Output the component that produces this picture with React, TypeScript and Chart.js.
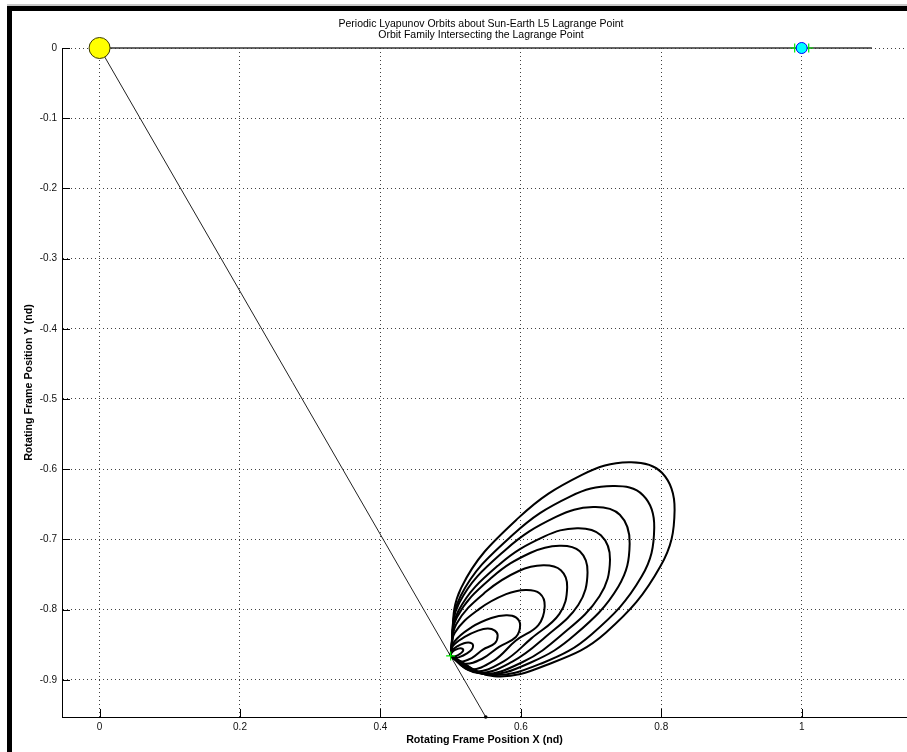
import React, { useEffect, useRef } from 'react';
import { Chart, registerables } from 'chart.js';

Chart.register(...registerables);

// ---- Axes ----
const X_MIN = -0.0535;
const X_MAX = 1.15;
const Y_MIN = -0.953;
const Y_MAX = 0;
const X_TICKS = [0, 0.2, 0.4, 0.6, 0.8, 1];
const X_TICK_LABELS = ['0', '0.2', '0.4', '0.6', '0.8', '1'];
const Y_TICKS = [0, -0.1, -0.2, -0.3, -0.4, -0.5, -0.6, -0.7, -0.8, -0.9];
const Y_TICK_LABELS = ['0', '-0.1', '-0.2', '-0.3', '-0.4', '-0.5', '-0.6', '-0.7', '-0.8', '-0.9'];

const TITLE_LINES = [
  'Periodic Lyapunov Orbits about Sun-Earth L5 Lagrange Point',
  'Orbit Family Intersecting the Lagrange Point',
];
const X_LABEL = 'Rotating Frame Position X (nd)';
const Y_LABEL = 'Rotating Frame Position Y (nd)';

// ---- Bodies and Lagrange points (rotating frame, non-dimensional) ----
const SUN = { x: 0, y: 0 };
const EARTH = { x: 1, y: 0 };
const L1 = { x: 0.99, y: 0 };
const L2 = { x: 1.01, y: 0 };
const L5 = { x: 0.5, y: -0.866 };

// Sun-Earth line and the Sun-L5 ray
const SUN_EARTH_X = [0, 1.1];
const SUN_EARTH_Y = [0, 0];
const L5_RAY_X = [0, 0.55];
const L5_RAY_Y = [0, -0.953];

// ---- Orbit family (largest to smallest), each closed through L5 ----
const ORBIT_1_X = [0.5, 0.515, 0.597, 0.687, 0.754, 0.801, 0.819, 0.799, 0.721, 0.644, 0.562, 0.5];
const ORBIT_1_Y = [-0.866, -0.769, -0.669, -0.608, -0.59, -0.605, -0.658, -0.738, -0.833, -0.876, -0.895, -0.866];
const ORBIT_2_X = [0.5, 0.514, 0.589, 0.67, 0.731, 0.774, 0.79, 0.772, 0.701, 0.631, 0.556, 0.5];
const ORBIT_2_Y = [-0.866, -0.781, -0.693, -0.639, -0.624, -0.637, -0.683, -0.753, -0.835, -0.876, -0.893, -0.866];
const ORBIT_3_X = [0.5, 0.512, 0.578, 0.65, 0.703, 0.741, 0.755, 0.739, 0.677, 0.615, 0.549, 0.5];
const ORBIT_3_Y = [-0.866, -0.791, -0.715, -0.668, -0.654, -0.665, -0.706, -0.767, -0.836, -0.875, -0.892, -0.866];
const ORBIT_4_X = [0.5, 0.511, 0.569, 0.633, 0.68, 0.714, 0.727, 0.712, 0.657, 0.602, 0.544, 0.5];
const ORBIT_4_Y = [-0.866, -0.802, -0.736, -0.696, -0.684, -0.694, -0.729, -0.781, -0.837, -0.875, -0.891, -0.866];
const ORBIT_5_X = [0.5, 0.509, 0.559, 0.614, 0.655, 0.684, 0.695, 0.682, 0.635, 0.588, 0.538, 0.5];
const ORBIT_5_Y = [-0.866, -0.811, -0.754, -0.719, -0.709, -0.717, -0.747, -0.793, -0.839, -0.874, -0.89, -0.866];
const ORBIT_6_X = [0.5, 0.508, 0.551, 0.597, 0.632, 0.657, 0.666, 0.655, 0.615, 0.575, 0.532, 0.5];
const ORBIT_6_Y = [-0.866, -0.821, -0.774, -0.745, -0.737, -0.744, -0.768, -0.806, -0.841, -0.874, -0.888, -0.866];
const ORBIT_7_X = [0.5, 0.506, 0.541, 0.579, 0.607, 0.627, 0.634, 0.625, 0.593, 0.561, 0.526, 0.5];
const ORBIT_7_Y = [-0.866, -0.833, -0.799, -0.778, -0.772, -0.777, -0.795, -0.822, -0.844, -0.873, -0.885, -0.866];
const ORBIT_8_X = [0.5, 0.505, 0.53, 0.558, 0.579, 0.593, 0.599, 0.593, 0.569, 0.545, 0.519, 0.5];
const ORBIT_8_Y = [-0.866, -0.846, -0.825, -0.812, -0.808, -0.811, -0.822, -0.839, -0.853, -0.87, -0.877, -0.866];
const ORBIT_9_X = [0.5, 0.503, 0.52, 0.539, 0.553, 0.563, 0.567, 0.563, 0.546, 0.53, 0.513, 0.5];
const ORBIT_9_Y = [-0.866, -0.852, -0.839, -0.83, -0.827, -0.83, -0.837, -0.848, -0.857, -0.869, -0.874, -0.866];
const ORBIT_10_X = [0.5, 0.501, 0.51, 0.519, 0.525, 0.53, 0.532, 0.53, 0.522, 0.514, 0.506, 0.5];
const ORBIT_10_Y = [-0.866, -0.859, -0.852, -0.848, -0.847, -0.848, -0.851, -0.857, -0.863, -0.867, -0.869, -0.866];
const ORBIT_11_X = [0.5, 0.501, 0.505, 0.51, 0.514, 0.517, 0.518, 0.516, 0.512, 0.508, 0.503, 0.5];
const ORBIT_11_Y = [-0.866, -0.862, -0.858, -0.856, -0.855, -0.856, -0.858, -0.861, -0.864, -0.866, -0.867, -0.866];

const ORBITS: [number[], number[]][] = [
  [ORBIT_1_X, ORBIT_1_Y],
  [ORBIT_2_X, ORBIT_2_Y],
  [ORBIT_3_X, ORBIT_3_Y],
  [ORBIT_4_X, ORBIT_4_Y],
  [ORBIT_5_X, ORBIT_5_Y],
  [ORBIT_6_X, ORBIT_6_Y],
  [ORBIT_7_X, ORBIT_7_Y],
  [ORBIT_8_X, ORBIT_8_Y],
  [ORBIT_9_X, ORBIT_9_Y],
  [ORBIT_10_X, ORBIT_10_Y],
  [ORBIT_11_X, ORBIT_11_Y],
];

const FONT = '"Liberation Sans", Arial, Helvetica, sans-serif';
const W = 907;
const H = 752;

const zip = (xs: number[], ys: number[]) => xs.map((x, i) => ({ x, y: ys[i] }));

// Frame, inward tick marks, title and axis labels
const decorPlugin = {
  id: 'decor',
  beforeDraw(chart: any) {
    const ctx = chart.ctx as CanvasRenderingContext2D;
    ctx.save();
    ctx.fillStyle = '#ffffff';
    ctx.fillRect(0, 0, chart.width, chart.height);
    ctx.restore();
  },
  afterDraw(chart: any) {
    const ctx = chart.ctx as CanvasRenderingContext2D;
    const { chartArea } = chart;
    const xs = chart.scales.x;
    const ys = chart.scales.y;
    ctx.save();

    // tick marks pointing into the axes
    ctx.strokeStyle = '#000';
    ctx.lineWidth = 1;
    ctx.beginPath();
    X_TICKS.forEach((v) => {
      const px = Math.round(xs.getPixelForValue(v)) + 0.5;
      ctx.moveTo(px, chartArea.bottom);
      ctx.lineTo(px, chartArea.bottom - 8);
    });
    Y_TICKS.forEach((v) => {
      const py = Math.round(ys.getPixelForValue(v)) + 0.5;
      ctx.moveTo(chartArea.left, py);
      ctx.lineTo(chartArea.left + 8, py);
    });
    ctx.stroke();

    // title
    ctx.fillStyle = '#000';
    ctx.textAlign = 'center';
    ctx.textBaseline = 'alphabetic';
    ctx.font = `10.5px ${FONT}`;
    ctx.fillText(TITLE_LINES[0], 481, 27);
    ctx.fillText(TITLE_LINES[1], 481, 38);

    // axis labels
    ctx.font = `bold 10.7px ${FONT}`;
    ctx.textBaseline = 'middle';
    ctx.fillText(X_LABEL, (chartArea.left + chartArea.right) / 2, 740);
    ctx.save();
    ctx.translate(29, (chartArea.top + chartArea.bottom) / 2);
    ctx.rotate(-Math.PI / 2);
    ctx.fillText(Y_LABEL, 0, 0);
    ctx.restore();

    // figure frame
    ctx.fillStyle = '#c8c8c8';
    ctx.fillRect(7, 4, W - 7, 2);
    ctx.fillStyle = '#000';
    ctx.fillRect(7, 6, W - 7, 5);
    ctx.fillRect(7, 6, 5, H - 6);
    ctx.restore();
  },
};

export default function App() {
  const canvasRef = useRef<HTMLCanvasElement | null>(null);

  useEffect(() => {
    const canvas = canvasRef.current;
    if (!canvas) return;

    const markerSet = (data: { x: number; y: number }[], style: any) => ({
      type: 'scatter' as const,
      data,
      showLine: false,
      clip: false as any,
      order: 0,
      ...style,
    });

    const lineSet = (xs: number[], ys: number[], style: any) => ({
      type: 'scatter' as const,
      data: zip(xs, ys),
      showLine: true,
      pointRadius: 0,
      clip: false as any,
      order: 1,
      ...style,
    });

    const datasets: any[] = [
      markerSet([EARTH], {
        pointStyle: 'circle',
        pointRadius: 5.5,
        backgroundColor: '#00ffff',
        borderColor: '#0000ff',
        borderWidth: 1,
      }),
      markerSet([SUN], {
        pointStyle: 'circle',
        pointRadius: 10.5,
        backgroundColor: '#ffff00',
        borderColor: '#3a3a00',
        borderWidth: 1,
      }),
      markerSet([L1, L2, L5], {
        pointStyle: 'cross',
        pointRadius: 4.5,
        borderColor: '#00ee00',
        borderWidth: 1.2,
        order: 0,
      }),
      markerSet([{ x: L5_RAY_X[1], y: L5_RAY_Y[1] }], {
        pointStyle: 'circle',
        pointRadius: 1.8,
        backgroundColor: '#000',
        borderColor: '#000',
        borderWidth: 0,
      }),
      ...ORBITS.map(([xs, ys]) =>
        lineSet(xs, ys, { borderColor: '#000', borderWidth: 2, tension: 0.4 })
      ),
      lineSet(L5_RAY_X, L5_RAY_Y, { borderColor: '#222', borderWidth: 1, order: 2 }),
      lineSet(SUN_EARTH_X, SUN_EARTH_Y, { borderColor: '#333', borderWidth: 1.3, order: 2 }),
    ];

    const chart = new Chart(canvas, {
      type: 'scatter',
      data: { datasets },
      options: {
        responsive: false,
        maintainAspectRatio: false,
        devicePixelRatio: 1,
        animation: false,
        events: [],
        layout: { autoPadding: false, padding: { top: 48, left: 0, right: 0, bottom: 0 } },
        plugins: {
          legend: { display: false },
          tooltip: { enabled: false },
          title: { display: false },
        },
        scales: {
          x: {
            type: 'linear',
            min: X_MIN,
            max: X_MAX,
            afterFit: (s: any) => {
              s.height = 35;
            },
            afterBuildTicks: (s: any) => {
              s.ticks = X_TICKS.map((value) => ({ value }));
            },
            ticks: {
              callback: (_v: any, i: number) => X_TICK_LABELS[i],
              font: { family: FONT, size: 10 },
              color: '#111',
              padding: 4,
              maxRotation: 0,
              autoSkip: false,
            },
            grid: { color: '#404040', lineWidth: 1, drawTicks: false },
            border: { display: true, color: '#000', width: 1, dash: [1, 3] },
          },
          y: {
            type: 'linear',
            min: Y_MIN,
            max: Y_MAX,
            afterFit: (s: any) => {
              s.width = 62;
            },
            afterBuildTicks: (s: any) => {
              s.ticks = Y_TICKS.map((value) => ({ value }));
            },
            ticks: {
              callback: (_v: any, i: number) => Y_TICK_LABELS[i],
              font: { family: FONT, size: 10 },
              color: '#111',
              padding: 5,
              autoSkip: false,
            },
            grid: { color: '#404040', lineWidth: 1, drawTicks: false },
            border: { display: true, color: '#000', width: 1, dash: [1, 3] },
          },
        },
      },
      plugins: [decorPlugin],
    });

    return () => chart.destroy();
  }, []);

  return (
    <div style={{ position: 'fixed', left: 0, top: 0, width: W, height: H, background: '#fff' }}>
      <canvas ref={canvasRef} width={W} height={H} style={{ display: 'block', width: W, height: H }} />
    </div>
  );
}
